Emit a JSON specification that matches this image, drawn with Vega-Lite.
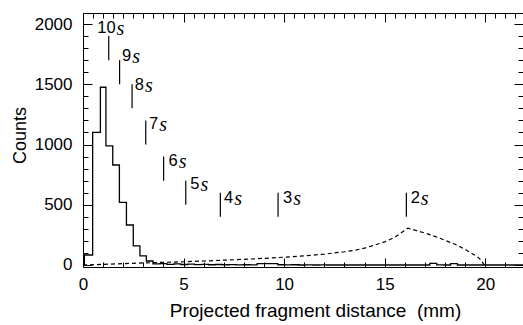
{
  "$schema": "https://vega.github.io/schema/vega-lite/v6.json",
  "width": 440,
  "height": 254,
  "autosize": {"type": "none"},
  "padding": {"left": 83, "top": 13, "right": 0, "bottom": 58},
  "background": "white",
  "config": {
    "view": {"stroke": "black", "strokeWidth": 1},
    "axis": {
      "grid": false,
      "domain": false,
      "labelFont": "Liberation Sans",
      "titleFont": "Liberation Sans",
      "labelFontSize": 17,
      "titleFontSize": 18,
      "titleFontWeight": "normal",
      "labelColor": "black",
      "titleColor": "black",
      "tickColor": "black",
      "tickWidth": 1
    }
  },
  "datasets": {
    "hist": [
      {"x": 0, "count": 0},
      {"x": 0.07, "count": 83},
      {"x": 0.48, "count": 1101},
      {"x": 0.865, "count": 1475},
      {"x": 1.14, "count": 988},
      {"x": 1.48, "count": 830},
      {"x": 1.81, "count": 520},
      {"x": 2.16, "count": 332},
      {"x": 2.5, "count": 158},
      {"x": 2.83, "count": 75},
      {"x": 3.15, "count": 33},
      {"x": 3.48, "count": 10},
      {"x": 3.83, "count": 12},
      {"x": 4.17, "count": 6},
      {"x": 4.52, "count": 9},
      {"x": 4.86, "count": 4},
      {"x": 5.21, "count": 7},
      {"x": 5.55, "count": 3},
      {"x": 5.9, "count": 5},
      {"x": 6.24, "count": 2},
      {"x": 6.59, "count": 4},
      {"x": 6.93, "count": 2},
      {"x": 7.28, "count": 3},
      {"x": 7.62, "count": 1},
      {"x": 7.97, "count": 2},
      {"x": 8.31, "count": 1},
      {"x": 8.66, "count": 12},
      {"x": 9.0, "count": 12},
      {"x": 9.35, "count": 12},
      {"x": 9.69, "count": 2},
      {"x": 10.04, "count": 1},
      {"x": 10.38, "count": 2},
      {"x": 10.73, "count": 0},
      {"x": 11.07, "count": 1},
      {"x": 11.42, "count": 0},
      {"x": 11.76, "count": 1},
      {"x": 12.11, "count": 0},
      {"x": 17.25, "count": 14},
      {"x": 17.59, "count": 1},
      {"x": 17.94, "count": 0},
      {"x": 18.28, "count": 12},
      {"x": 18.62, "count": 0},
      {"x": 21.88, "count": 0}
    ],
    "model": [
      {"x": 0, "count": 0},
      {"x": 1, "count": 5},
      {"x": 2, "count": 11},
      {"x": 3, "count": 17},
      {"x": 4, "count": 22},
      {"x": 5, "count": 27},
      {"x": 6, "count": 33},
      {"x": 7, "count": 40},
      {"x": 8, "count": 47},
      {"x": 9, "count": 55},
      {"x": 10, "count": 65},
      {"x": 11, "count": 76},
      {"x": 12, "count": 90},
      {"x": 13, "count": 110},
      {"x": 13.5, "count": 122},
      {"x": 14, "count": 140},
      {"x": 14.5, "count": 165},
      {"x": 15, "count": 192},
      {"x": 15.5, "count": 230},
      {"x": 15.8, "count": 265},
      {"x": 16.15, "count": 305},
      {"x": 16.5, "count": 290},
      {"x": 17, "count": 265},
      {"x": 17.5, "count": 238},
      {"x": 18, "count": 205},
      {"x": 18.5, "count": 172},
      {"x": 19, "count": 130},
      {"x": 19.3, "count": 100},
      {"x": 19.6, "count": 70},
      {"x": 19.8, "count": 40},
      {"x": 19.95, "count": 0}
    ],
    "marks": [
      {"num": "10", "x": 1.28, "y1": 1700, "y2": 1900, "lx": 1.62, "ly": 1967},
      {"num": "9", "x": 1.82, "y1": 1500, "y2": 1700, "lx": 2.4, "ly": 1734},
      {"num": "8", "x": 2.44, "y1": 1300, "y2": 1500, "lx": 3.03, "ly": 1494},
      {"num": "7", "x": 3.12, "y1": 1000, "y2": 1200, "lx": 3.74, "ly": 1174},
      {"num": "6", "x": 4.01, "y1": 700, "y2": 900, "lx": 4.71, "ly": 867},
      {"num": "5", "x": 5.11, "y1": 500, "y2": 700, "lx": 5.79, "ly": 670},
      {"num": "4", "x": 6.83, "y1": 400, "y2": 600, "lx": 7.47, "ly": 553},
      {"num": "3", "x": 9.7, "y1": 400, "y2": 600, "lx": 10.4, "ly": 553},
      {"num": "2", "x": 16.08, "y1": 400, "y2": 600, "lx": 16.75, "ly": 553}
    ]
  },
  "layer": [
    {
      "data": {"name": "hist"},
      "mark": {"type": "line", "interpolate": "step-after", "color": "black", "strokeWidth": 1.3},
      "encoding": {
        "x": {
          "field": "x", "type": "quantitative",
          "scale": {"domain": [0, 21.88], "nice": false, "zero": false},
          "axis": {
            "orient": "bottom",
            "values": [0,0.5,1,1.5,2,2.5,3,3.5,4,4.5,5,5.5,6,6.5,7,7.5,8,8.5,9,9.5,10,10.5,11,11.5,12,12.5,13,13.5,14,14.5,15,15.5,16,16.5,17,17.5,18,18.5,19,19.5,20,20.5,21,21.5],
            "format": "d",
            "labelExpr": "datum.value % 5 === 0 ? datum.label : ''",
            "tickSize": {"condition": {"test": "datum.value % 5 === 0", "value": -9}, "value": -5},
            "labelPadding": 18,
            "labelFlush": false,
            "labelOverlap": false,
            "title": "Projected fragment distance\u00a0 (mm)",
            "titleFontSize": 19,
            "titleX": 232,
            "titleY": 49,
            "titleAlign": "center",
            "titleBaseline": "alphabetic"
          }
        },
        "y": {
          "field": "count", "type": "quantitative",
          "scale": {"domain": [-16.6, 2091.3], "nice": false, "zero": false},
          "axis": {
            "orient": "left",
            "values": [0,100,200,300,400,500,600,700,800,900,1000,1100,1200,1300,1400,1500,1600,1700,1800,1900,2000],
            "format": "d",
            "labelExpr": "datum.value % 500 === 0 ? datum.label : ''",
            "tickSize": {"condition": {"test": "datum.value % 500 === 0", "value": -9}, "value": -5},
            "labelPadding": 20,
            "labelFlush": false,
            "labelOverlap": false,
            "title": "Counts",
            "titleX": -63,
            "titleY": 122,
            "titleAngle": 270,
            "titleAlign": "center",
            "titleBaseline": "middle"
          }
        }
      }
    },
    {
      "data": {"name": "model"},
      "mark": {"type": "line", "color": "black", "strokeWidth": 1.2, "strokeDash": [4, 3]},
      "encoding": {
        "x": {"field": "x", "type": "quantitative", "scale": {"domain": [0, 21.88], "nice": false, "zero": false}, "axis": null},
        "y": {"field": "count", "type": "quantitative", "scale": {"domain": [-16.6, 2091.3], "nice": false, "zero": false}, "axis": null}
      }
    },
    {
      "data": {"name": "marks"},
      "mark": {"type": "rule", "color": "black", "strokeWidth": 1.2},
      "encoding": {
        "x": {
          "field": "x", "type": "quantitative",
          "scale": {"domain": [0, 21.88], "nice": false, "zero": false},
          "axis": {
            "orient": "top",
            "values": [0,0.5,1,1.5,2,2.5,3,3.5,4,4.5,5,5.5,6,6.5,7,7.5,8,8.5,9,9.5,10,10.5,11,11.5,12,12.5,13,13.5,14,14.5,15,15.5,16,16.5,17,17.5,18,18.5,19,19.5,20,20.5,21,21.5],
            "labels": false,
            "title": null,
            "tickSize": {"condition": {"test": "datum.value % 5 === 0", "value": -9}, "value": -5}
          }
        },
        "y": {
          "field": "y1", "type": "quantitative",
          "scale": {"domain": [-16.6, 2091.3], "nice": false, "zero": false},
          "axis": {
            "orient": "right",
            "values": [0,100,200,300,400,500,600,700,800,900,1000,1100,1200,1300,1400,1500,1600,1700,1800,1900,2000],
            "labels": false,
            "title": null,
            "tickSize": {"condition": {"test": "datum.value % 500 === 0", "value": -9}, "value": -5}
          }
        },
        "y2": {"field": "y2"}
      }
    },
    {
      "data": {"name": "marks"},
      "mark": {"type": "text", "align": "right", "baseline": "middle", "font": "Liberation Sans", "fontSize": 16.5, "color": "black"},
      "encoding": {
        "x": {"field": "lx", "type": "quantitative", "scale": {"domain": [0, 21.88], "nice": false, "zero": false}, "axis": null},
        "y": {"field": "ly", "type": "quantitative", "scale": {"domain": [-16.6, 2091.3], "nice": false, "zero": false}, "axis": null},
        "text": {"field": "num"}
      }
    },
    {
      "data": {"name": "marks"},
      "mark": {"type": "text", "text": "s", "align": "left", "baseline": "middle", "dx": 1, "dy": 1, "font": "Liberation Serif", "fontStyle": "italic", "fontSize": 20, "color": "black"},
      "encoding": {
        "x": {"field": "lx", "type": "quantitative", "scale": {"domain": [0, 21.88], "nice": false, "zero": false}, "axis": null},
        "y": {"field": "ly", "type": "quantitative", "scale": {"domain": [-16.6, 2091.3], "nice": false, "zero": false}, "axis": null}
      }
    }
  ],
  "resolve": {"axis": {"x": "independent", "y": "independent"}}
}
